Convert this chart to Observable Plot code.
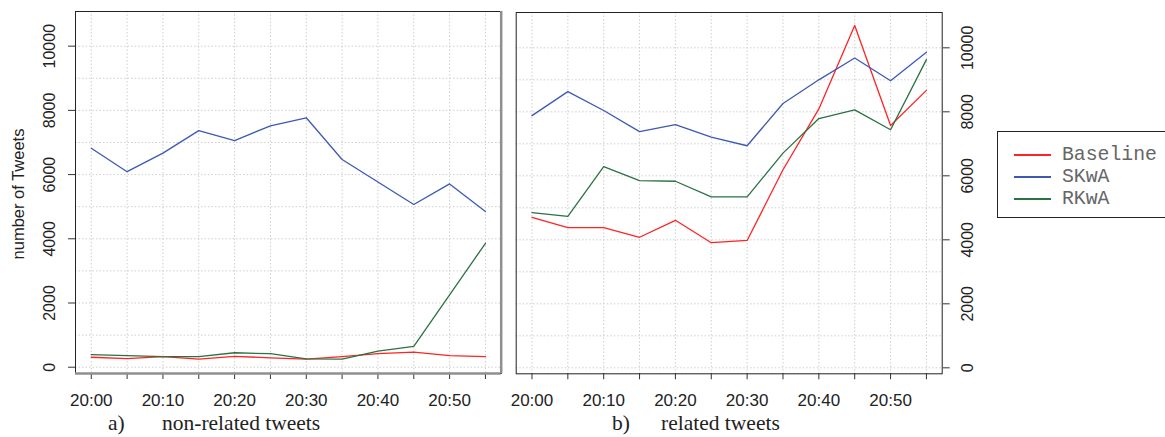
<!DOCTYPE html>
<html><head><meta charset="utf-8">
<script src="https://cdn.jsdelivr.net/npm/d3@7"></script>
<script src="https://cdn.jsdelivr.net/npm/@observablehq/plot@0.6"></script>
<style>
body{margin:0;background:#fff;overflow:hidden}
#wrap{position:relative;width:1165px;height:437px;overflow:hidden;background:#fff}
.p{position:absolute;top:0}
.cap{position:absolute;top:413px;font-family:"Liberation Serif","Times New Roman",serif;font-size:21.5px;line-height:21.5px;color:#222;white-space:pre}
.ytitle{position:absolute;font-family:"Liberation Sans",Arial,sans-serif;font-size:16.5px;line-height:18px;color:#222;white-space:nowrap;transform-origin:center center}
#legend{position:absolute;left:997px;top:131px;width:200px;height:87px;border:1px solid #222;box-sizing:border-box;background:#fff}
#legend .row{position:absolute;left:0;height:22px;width:200px}
#legend .sw{position:absolute;left:16px;top:10px;width:37px;height:0;border-top:2px solid}
#legend .lb{position:absolute;left:64px;top:0;font-family:"Liberation Mono","Courier New",monospace;font-size:19.8px;line-height:22px;color:#666}
</style></head><body><div id="wrap"></div>
<script>
// ---- data ----
const times = ["20:00","20:05","20:10","20:15","20:20","20:25","20:30","20:35","20:40","20:45","20:50","20:55"];
const seriesNames = ["Baseline", "SKwA", "RKwA"];
const seriesColors = ["#ff2424", "#3d59b3", "#2b7143"];

// a) non-related tweets
const baselineA = [310, 270, 330, 250, 340, 290, 250, 330, 420, 470, 360, 330];
const skwaA     = [6820, 6090, 6670, 7370, 7060, 7520, 7770, 6470, 5770, 5070, 5710, 4850];
const rkwaA     = [390, 360, 330, 330, 450, 420, 260, 250, 500, 650, 2250, 3860];

// b) related tweets
const baselineB = [4700, 4380, 4380, 4080, 4610, 3910, 3980, 6190, 8090, 10700, 7570, 8670];
const skwaB     = [7880, 8630, 8040, 7380, 7600, 7210, 6940, 8260, 9000, 9680, 8970, 9860];
const rkwaB     = [4850, 4730, 6290, 5850, 5830, 5340, 5340, 6710, 7790, 8060, 7440, 9630];

const yTicks = [0, 2000, 4000, 6000, 8000, 10000];
const yGrid  = [0, 1000, 2000, 3000, 4000, 5000, 6000, 7000, 8000, 9000, 10000];
const xIdx = times.map((_, i) => i);

function toRows(lists) {
  const rows = [];
  lists.forEach((vals, s) => vals.forEach((v, i) => rows.push({series: seriesNames[s], i, value: v})));
  return rows;
}

function panel({lists, side, width, marginLeft, marginRight, marginTop, marginBottom, yDomain, shadow}) {
  const xDomain = [-0.44, 11.44];
  const rows = toRows(lists);
  const marks = [
    Plot.gridX(xIdx, {stroke: "#cfcfcf", strokeOpacity: 1, strokeDasharray: "1.5,2"}),
    Plot.gridY(yGrid, {stroke: "#cfcfcf", strokeOpacity: 1, strokeDasharray: "1.5,2"}),
    Plot.line(rows, {x: "i", y: "value", z: "series", stroke: "series", strokeWidth: 1.3}),
    Plot.axisX(xIdx, {anchor: "bottom", label: null, tickSize: 6, tickPadding: 14, fontSize: 17, stroke: "#333",
      tickFormat: i => (i % 2 === 0 ? times[i] : "")}),
    Plot.axisY(yTicks, {anchor: side, label: null, tickSize: 7, stroke: "#333", tickFormat: () => ""}),
    Plot.text(yTicks, {y: d => d, text: d => String(d), frameAnchor: side, dx: side === "left" ? -26 : 26,
      rotate: -90, textAnchor: "middle", lineAnchor: "middle", fontSize: 16, fill: "#222"}),
    Plot.frame({stroke: "#222", strokeWidth: 1})
  ];
  if (shadow) {
    marks.push(Plot.ruleX([xDomain[1]], {stroke: "#8f8f8f", strokeWidth: 2.5}));
    marks.push(Plot.ruleY([yDomain[0]], {stroke: "#8f8f8f", strokeWidth: 2.5}));
  }
  return Plot.plot({
    width, height: 437, marginLeft, marginRight, marginTop, marginBottom,
    x: {domain: xDomain, axis: null, label: null},
    y: {domain: yDomain, axis: null, label: null},
    color: {domain: seriesNames, range: seriesColors},
    style: {fontFamily: "'Liberation Sans', Arial, sans-serif", color: "#222", background: "white", overflow: "visible"},
    marks
  });
}

const wrap = document.getElementById("wrap");

const left = panel({lists: [baselineA, skwaA, rkwaA], side: "left", width: 508,
  marginLeft: 75, marginRight: 7.3, marginTop: 11, marginBottom: 64, yDomain: [-196, 11080], shadow: true});
left.classList.add("p"); left.style.left = "0px";
wrap.appendChild(left);

const right = panel({lists: [baselineB, skwaB, rkwaB], side: "right", width: 482,
  marginLeft: 7.7, marginRight: 48.3, marginTop: 12, marginBottom: 63.7, yDomain: [-187, 11104], shadow: false});
right.classList.add("p"); right.style.left = "508px";
wrap.appendChild(right);

// y axis title
const yt = document.createElement("div");
yt.className = "ytitle";
yt.textContent = "number of Tweets";
wrap.appendChild(yt);
const w = yt.offsetWidth, h = yt.offsetHeight;
yt.style.left = (18 - w / 2) + "px";
yt.style.top = (194 - h / 2) + "px";
yt.style.transform = "rotate(-90deg)";

// captions
const caps = [["a)", 108], ["non-related tweets", 162], ["b)", 612], ["related tweets", 661]];
caps.forEach(([t, x]) => {
  const d = document.createElement("div");
  d.className = "cap"; d.textContent = t; d.style.left = x + "px";
  wrap.appendChild(d);
});

// legend
const lg = document.createElement("div");
lg.id = "legend";
seriesNames.forEach((name, k) => {
  const r = document.createElement("div");
  r.className = "row";
  r.style.top = (12 + k * 22) + "px";
  const sw = document.createElement("div");
  sw.className = "sw"; sw.style.borderTopColor = seriesColors[k];
  const lb = document.createElement("div");
  lb.className = "lb"; lb.textContent = name;
  r.appendChild(sw); r.appendChild(lb);
  lg.appendChild(r);
});
wrap.appendChild(lg);
</script>
</body></html>
